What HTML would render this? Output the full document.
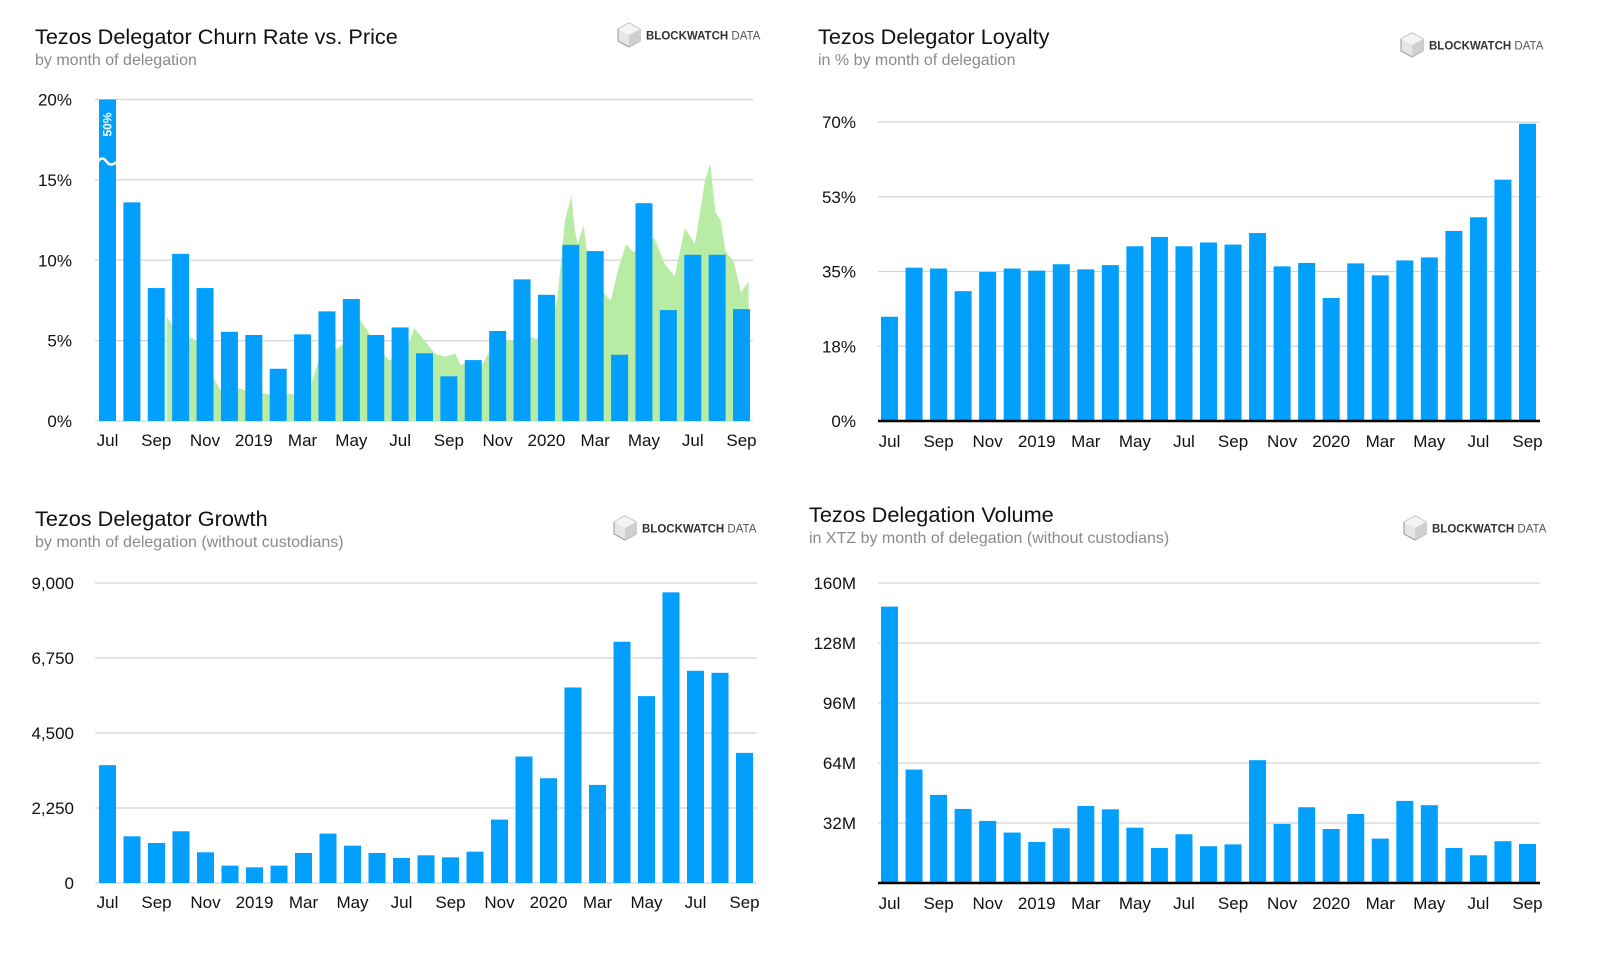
<!DOCTYPE html>
<html><head><meta charset="utf-8">
<style>
html,body{margin:0;padding:0;background:#fff;}
svg{display:block;font-family:"Liberation Sans",Arial,sans-serif;}
.title{font-size:21.7px;fill:#111;}
.sub{font-size:16px;fill:#8a8a8a;}
.tick{font-size:17px;fill:#111;}
.grid{stroke:#d4d4d4;stroke-width:1.2;}
.bar{fill:#02a0fc;}
</style></head>
<body>
<svg id="root" width="1600" height="956" viewBox="0 0 1600 956"></svg>
<script>
// ---- data ----
const months = ["Jul","Aug","Sep","Oct","Nov","Dec","2019","Feb","Mar","Apr","May","Jun","Jul","Aug","Sep","Oct","Nov","Dec","2020","Feb","Mar","Apr","May","Jun","Jul","Aug","Sep"];
const churnValues = [50,13.6,8.27,10.4,8.27,5.55,5.35,3.25,5.39,6.82,7.59,5.35,5.82,4.21,2.78,3.79,5.6,8.81,7.85,10.96,10.57,4.12,13.55,6.9,10.34,10.34,6.96];
const churnTicks = [0,5,10,15,20];
const churnTickLabels = ["0%","5%","10%","15%","20%"];
const priceT = [2.43,2.85,3.1,3.47,3.8,4.0,4.2,4.42,4.6,4.84,5.1,5.46,5.88,6.2,6.51,6.8,7.14,7.56,7.98,8.2,8.39,8.71,9.1,9.44,9.8,10.07,10.38,10.7,11.12,11.53,11.9,12.16,12.58,13.0,13.42,13.84,14.26,14.47,14.9,15.3,15.72,16.0,16.35,16.9,17.4,17.81,18.2,18.44,18.6,18.76,19.03,19.15,19.28,19.53,19.7,19.91,20.33,20.64,20.95,21.27,21.58,22.0,22.42,22.84,23.26,23.68,24.09,24.3,24.51,24.72,24.93,25.14,25.35,25.67,25.98,26.29];
const priceV = [6.5,5.5,5.0,5.2,4.6,4.0,3.2,2.5,2.0,1.5,2.1,2.0,1.8,1.7,1.7,1.6,1.6,1.7,1.5,1.8,2.5,4.0,4.4,4.5,5.0,5.5,6.3,5.5,4.5,3.8,3.9,4.0,5.8,5.0,4.2,4.0,4.2,3.5,3.6,3.3,4.5,4.7,5.0,5.1,5.2,5.0,6.5,7.5,10,12.5,14,12,11,12.2,10,9,8,7.5,9.5,11,10.5,11.2,11.4,9.8,9.0,12,11,13,15,16,13,12.5,10.5,10,8,8.7];

const loyaltyValues = [24.4,35.9,35.7,30.4,34.9,35.7,35.2,36.7,35.5,36.5,40.9,43.1,40.9,41.8,41.3,44.0,36.2,37.0,28.8,36.9,34.1,37.6,38.3,44.5,47.7,56.5,69.6];
const loyaltyTicks = [0,17.5,35,52.5,70];
const loyaltyTickLabels = ["0%","18%","35%","53%","70%"];

const growthValues = [3534,1401,1201,1552,921,521,470,521,901,1482,1121,901,751,831,771,941,1902,3794,3143,5866,2943,7238,5606,8719,6366,6306,3904];
const growthTicks = [0,2250,4500,6750,9000];
const growthTickLabels = ["0","2,250","4,500","6,750","9,000"];

const volumeValues = [147.4,60.5,47.0,39.5,33.1,26.9,21.9,29.2,41.1,39.3,29.5,18.7,26.0,19.6,20.6,65.5,31.5,40.4,28.8,36.8,23.7,43.8,41.5,18.7,14.8,22.3,20.8];
const volumeTicks = [0,32,64,96,128,160];
const volumeTickLabels = ["","32M","64M","96M","128M","160M"];

const xLabelIdx = [0,2,4,6,8,10,12,14,16,18,20,22,24,26];

const NS = "http://www.w3.org/2000/svg";
const root = document.getElementById("root");
function mk(tag, attrs, parent, text){
  const e = document.createElementNS(NS, tag);
  for (const k in attrs) e.setAttribute(k, attrs[k]);
  if (text !== undefined) e.textContent = text;
  (parent || root).appendChild(e);
  return e;
}

function logo(g, x, y){
  const lg = mk("g", {transform:`translate(${x},${y})`}, g);
  
  
  mk("polygon", {points:"12,0 23,6 23,18 12,24 1,18 1,6", fill:"#e6e6e6", stroke:"#9a9a9a", "stroke-width":"1"}, lg);
  mk("polygon", {points:"12,12 23,6 23,18 12,24", fill:"#cfcfcf"}, lg);
  mk("polygon", {points:"1,6 12,0 23,6 12,12", fill:"#f4f4f4"}, lg);
  const t = mk("text", {x:29, y:16.5, "font-size":"11.5", fill:"#333"}, lg);
  mk("tspan", {"font-weight":"bold"}, t, "BLOCKWATCH");
  mk("tspan", {fill:"#555"}, t, " DATA");
}

function chart(opt){
  const g = mk("g", {});
  
  
  const tt = mk("text", {x:opt.tx, y:opt.ty, class:"title"}, g, opt.title);
  
  
  const st = mk("text", {x:opt.tx, y:opt.ty+21, class:"sub"}, g, opt.subtitle);
  
  
  logo(g, opt.lx, opt.ly);

  const ymax = opt.ticks[opt.ticks.length-1];
  const yS = v => opt.y0 - (v/ymax)*(opt.y0-opt.y1);
  const n = opt.values.length;
  const xS = i => opt.bx0 + i*(opt.bx1-opt.bx0)/(n-1);

  opt.ticks.forEach((t,k)=>{
    const y = yS(t);
    if (!(k===0 && opt.blackBase)) {
      const l = mk("line", {x1:opt.px0, x2:opt.px1, y1:y, y2:y, class:"grid"}, g);
      
      
    }
    const lab = mk("text", {x:opt.lxr, y:y+6, class:"tick", "text-anchor":"end"}, g, opt.tickLabels[k]);
    
    
  });

  if (opt.area) {
    let d = `M${xS(opt.areaT[0])+opt.bw/2},${yS(0)}`;
    opt.areaT.forEach((t,i)=>{ d += ` L${xS(t)+opt.bw/2},${yS(opt.areaV[i])}`; });
    d += ` L${xS(opt.areaT[opt.areaT.length-1])+opt.bw/2},${yS(0)} Z`;
    const a = mk("path", {d, fill:"#b8eca4"}, g);
    
    
  }

  opt.values.forEach((v,i)=>{
    const vv = Math.min(v, ymax);
    const y = yS(vv);
    const r = mk("rect", {x:xS(i), y:y, width:opt.bw, height:opt.y0-y, class:"bar"}, g);
    
    
    if (v > ymax) {
      const cx = xS(i)+opt.bw/2;
      mk("path", {d:`M${xS(i)-1},${y+62} q${opt.bw/4},-6 ${opt.bw/2},0 t${opt.bw/2+2},0`, stroke:"#fff", "stroke-width":"2.5", fill:"none"}, g);
      const lb = mk("text", {x:cx, y:y+25, fill:"#fff", "font-size":"12", "font-weight":"bold", "text-anchor":"middle", "dominant-baseline":"central", transform:`rotate(-90 ${cx} ${y+25})`}, g, Math.round(v)+"%");
      
      
    }
  });

  if (opt.blackBase) {
    const bl = mk("line", {x1:opt.px0, x2:opt.px1, y1:opt.y0, y2:opt.y0, stroke:"#000", "stroke-width":"2.5"}, g);
    
    
  }

  xLabelIdx.forEach(i=>{
    const xl = mk("text", {x:xS(i)+opt.bw/2, y:opt.xly, class:"tick", "text-anchor":"middle"}, g, months[i]);
    
    
  });
}

chart({name:"churn-rate-chart", title:"Tezos Delegator Churn Rate vs. Price", subtitle:"by month of delegation",
  tx:35, ty:44, lx:617, ly:23, values:churnValues, ticks:churnTicks, tickLabels:churnTickLabels,
  y0:421, y1:99.5, px0:95, px1:753, bx0:99, bx1:733, bw:17, lxr:72, xly:446,
  area:true, areaT:priceT, areaV:priceV});

chart({name:"loyalty-chart", title:"Tezos Delegator Loyalty", subtitle:"in % by month of delegation",
  tx:818, ty:44, lx:1400, ly:33, values:loyaltyValues, ticks:loyaltyTicks, tickLabels:loyaltyTickLabels,
  y0:421, y1:122, px0:878, px1:1540, bx0:881, bx1:1519, bw:17, lxr:856, xly:447, blackBase:true});

chart({name:"growth-chart", title:"Tezos Delegator Growth", subtitle:"by month of delegation (without custodians)",
  tx:35, ty:526, lx:613, ly:516, values:growthValues, ticks:growthTicks, tickLabels:growthTickLabels,
  y0:883, y1:583, px0:95, px1:757, bx0:99, bx1:736, bw:17, lxr:74, xly:908});

chart({name:"volume-chart", title:"Tezos Delegation Volume", subtitle:"in XTZ by month of delegation (without custodians)",
  tx:809, ty:522, lx:1403, ly:516, values:volumeValues, ticks:volumeTicks, tickLabels:volumeTickLabels,
  y0:883, y1:583, px0:878, px1:1540, bx0:881, bx1:1519, bw:17, lxr:856, xly:909, blackBase:true});
</script>
</body></html>
